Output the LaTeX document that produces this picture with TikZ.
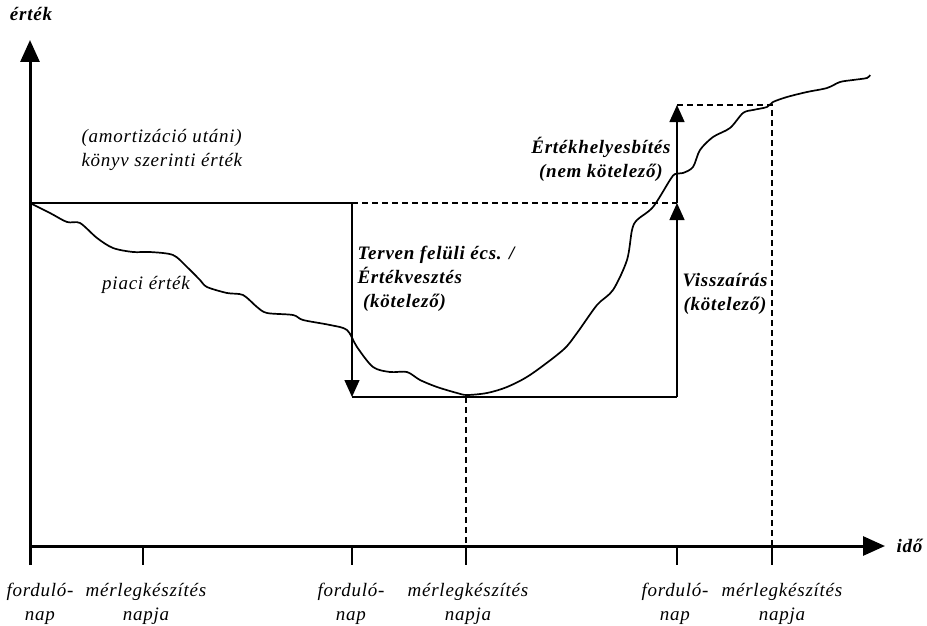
\documentclass[tikz,border=0pt]{standalone}
\usepackage{fontspec}
\setmainfont{Liberation Serif}[LetterSpace=4]
\usetikzlibrary{arrows.meta}

\tikzset{
  txt/.style={font=\itshape\fontsize{19}{24}\selectfont},
  btxt/.style={font=\bfseries\itshape\fontsize{19}{24}\selectfont},
  axis/.style={line width=3pt,-{Triangle[length=22pt,width=19pt]}},
  val/.style={line width=1.4pt},
  valarrow/.style={line width=1.4pt,-{Triangle[length=17pt,width=15pt]}},
  help/.style={line width=1.4pt,dash pattern=on 6pt off 4pt}
}

\begin{document}
\begin{tikzpicture}[x=1pt,y=-1pt]
 \useasboundingbox (0,0) rectangle (927,626);
 % axes
 \coordinate (O) at (30,546);
 \coordinate (ytop) at (30,40);
 \coordinate (xend) at (885,546);
 \draw[axis] (30,565) -- (ytop);
 \draw[axis] (O) -- (xend);
 \node[btxt] (ylab) at (31,14) {érték};
 \node[btxt,anchor=west] (xlab) at (893,546) {idő};
 % ticks
 \foreach \t/\n in {143/t2,352/t3,466/t4,677/t5,772/t6}
  \draw[line width=1.4pt] (\t,546) -- (\t,565) coordinate (\n);
 \coordinate (t1) at (30,565);
 \node[txt,align=center,anchor=north] (l1) at (40,580) {forduló-\\nap};
 \node[txt,align=center,anchor=north] (l2) at (146,580) {mérlegkészítés\\napja};
 \node[txt,align=center,anchor=north] (l3) at (351,580) {forduló-\\nap};
 \node[txt,align=center,anchor=north] (l4) at (468,580) {mérlegkészítés\\napja};
 \node[txt,align=center,anchor=north] (l5) at (675,580) {forduló-\\nap};
 \node[txt,align=center,anchor=north] (l6) at (782,580) {mérlegkészítés\\napja};
 % book value and corrections
 \coordinate (B0) at (30,203);
 \coordinate (B1) at (352,203);
 \coordinate (B2) at (677,203);
 \coordinate (L1) at (352,397);
 \coordinate (L2) at (677,397);
 \coordinate (U) at (677,105);
 \coordinate (U2) at (772,105);
 \coordinate (M) at (466,397);
 \draw[val] (B0) -- (B1);
 \draw[help] (B1) -- (B2);
 \draw[valarrow] (B1) -- (L1);
 \draw[val] (L1) -- (L2);
 \draw[valarrow] (L2) -- (B2);
 \draw[valarrow] (B2) -- (U);
 \draw[help] (U) -- (U2) -- (772,546);
 \draw[help] (M) -- (466,546);
 % market value
 \draw[line width=1.7pt,line join=round] plot[smooth,tension=0.5] coordinates {
  (30,203) (50,213) (67,222) (80,223) (97,238) (113,248) (133,252) (150,252)
  (173,255) (187,267) (200,280) (207,287) (227,293) (243,295) (257,307)
  (267,313) (293,315) (303,320) (330,325) (347,330) (357,347) (373,367)
  (390,372) (407,372) (420,380) (437,387) (457,393) (467,395) (487,393)
  (507,387) (530,375) (563,350) (577,333) (597,305) (613,290) (627,260)
  (632,230) (637,220) (653,207) (670,180) (675,174) (683,173) (693,167)
  (700,150) (713,137) (730,128) (743,113) (753,110) (767,107) (773,102)
  (787,97) (807,92) (827,88) (840,82) (853,80) (867,78) (870,75)};
 % labels
 \node[txt,align=left,anchor=west] (konyv) at (78,150) {(amortizáció utáni)\\könyv szerinti érték};
 \node[txt] (piaci) at (146,285) {piaci érték};
 \node[btxt,align=left,anchor=north west] (ecs) at (354,243) {Terven felüli écs. /\\Értékvesztés\\\ (kötelező)};
 \node[btxt,align=center,anchor=east] (helyes) at (674,159) {Értékhelyesbítés\\(nem kötelező)};
 \node[btxt,align=center,anchor=west] (vissza) at (679,294) {Visszaírás\\(kötelező)};
\end{tikzpicture}
\end{document}
